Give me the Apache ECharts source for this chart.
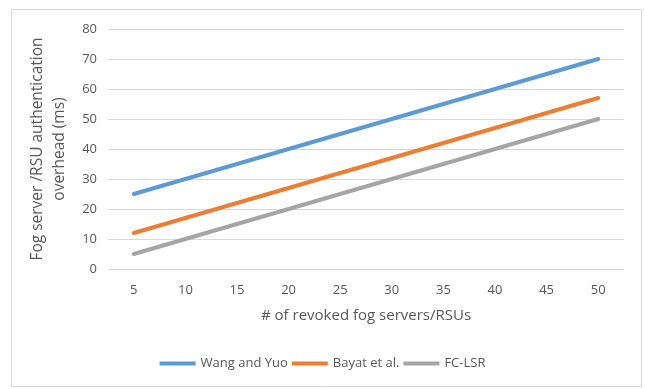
<!DOCTYPE html>
<html>
<head>
<meta charset="utf-8">
<script src="https://cdn.jsdelivr.net/npm/echarts@6/dist/echarts.min.js"></script>
<style>
	html, body { margin: 0; padding: 0; background: #fff; }
	#chart { width: 645px; height: 389px; }
</style>
</head>
<body>
<div id="chart"></div>
<script>
	// x categories: number of revoked fog servers / RSUs
	var revokedCounts = ['5', '10', '15', '20', '25', '30', '35', '40', '45', '50'];
	// overhead in ms
	var wangYuo = [25, 30, 35, 40, 45, 50, 55, 60, 65, 70];
	var bayat = [12, 17, 22, 27, 32, 37, 42, 47, 52, 57];
	var fcLsr = [5, 10, 15, 20, 25, 30, 35, 40, 45, 50];

	var fontFam = '"Open Sans", "Liberation Sans", sans-serif';
	var textGray = '#595959';

	var chart = echarts.init(document.getElementById('chart'));

	function lineSeries(name, data, color) {
		return {
			name: name,
			type: 'line',
			data: data,
			symbol: 'none',
			color: color,
			lineStyle: { width: 4, color: color, cap: 'round' },
			animation: false
		};
	}

	var option = {
		animation: false,
		graphic: [{
			type: 'rect',
			shape: { x: 11.5, y: 9.5, width: 630, height: 377 },
			style: { fill: 'none', stroke: '#D9D9D9', lineWidth: 1 },
			silent: true
		}],
		grid: {
			left: 108,
			right: 21,
			top: 29,
			bottom: 120
		},
		legend: {
			bottom: 14,
			left: 'center',
			itemWidth: 36,
			itemHeight: 4,
			itemGap: 4,
			icon: 'rect',
			textStyle: { color: textGray, fontSize: 13, fontFamily: fontFam },
			data: ['Wang and Yuo', 'Bayat et al.', 'FC-LSR']
		},
		xAxis: {
			type: 'category',
			data: revokedCounts,
			boundaryGap: true,
			name: '# of revoked fog servers/RSUs',
			nameLocation: 'middle',
			nameGap: 39,
			nameTextStyle: { color: textGray, fontSize: 15, fontFamily: fontFam },
			axisLine: { show: false },
			axisTick: { show: false },
			axisLabel: { color: textGray, fontSize: 13, fontFamily: fontFam, margin: 15 }
		},
		yAxis: {
			type: 'value',
			min: 0,
			max: 80,
			interval: 10,
			name: 'Fog server /RSU authentication\noverhead (ms)',
			nameLocation: 'middle',
			nameGap: 37,
			nameRotate: 90,
			nameTextStyle: { color: textGray, fontSize: 15.5, fontFamily: fontFam, lineHeight: 22 },
			axisLine: { show: false },
			axisTick: { show: false },
			axisLabel: { color: textGray, fontSize: 13, fontFamily: fontFam, margin: 11 },
			splitLine: { lineStyle: { color: '#D9D9D9', width: 1 } }
		},
		series: [
			lineSeries('Wang and Yuo', wangYuo, '#5B9BD5'),
			lineSeries('Bayat et al.', bayat, '#ED7D31'),
			lineSeries('FC-LSR', fcLsr, '#A5A5A5')
		]
	};

	chart.setOption(option);
</script>
</body>
</html>
